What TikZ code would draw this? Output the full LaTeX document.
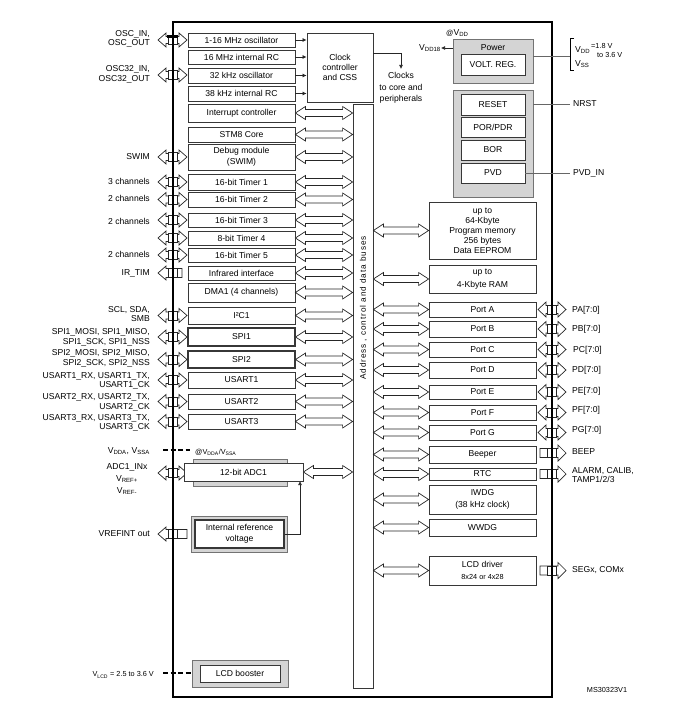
\documentclass[tikz,border=0pt]{standalone}
\usepackage{fontspec}
\setmainfont{Liberation Sans}
\newfontfamily\busfont[LetterSpace=11]{Liberation Sans}
\usetikzlibrary{arrows.meta,calc}
\definecolor{grpfill}{RGB}{212,212,212}
\definecolor{edgec}{RGB}{55,55,55}
\newcommand{\blkfs}{\fontsize{8.6}{10}\selectfont}
\newcommand{\lblfs}{\fontsize{8.6}{9.6}\selectfont}
\newcommand{\smfs}{\fontsize{7.3}{8.5}\selectfont}
\tikzset{
  blk/.style={draw=edgec, line width=0.8pt, fill=white, inner sep=0pt, align=center, font=\blkfs},
  grp/.style={draw=black!55, line width=0.8pt, fill=grpfill, inner sep=0pt},
  lbl/.style={inner sep=0pt, font=\lblfs, align=right},
  rlbl/.style={inner sep=0pt, font=\lblfs, align=left, anchor=west},
  hollow/.style={draw=black!85, fill=white, line width=0.7pt, line join=miter},
  pinsqr/.style={draw=black!85, fill=white, line width=0.7pt},
  clkarr/.style={draw=black!85, line width=0.7pt, -{Latex[length=4pt,width=4pt]}},
  gline/.style={draw=black!60, line width=0.8pt},
  dashthick/.style={draw=black, line width=1.8pt, dash pattern=on 5pt off 2.5pt},
}
\newcommand{\mkbox}[7]{\node[#1, minimum width={(#5-#3)*1pt}, minimum height={(#6-#4)*1pt}] (#2) at ({(#3+#5)/2},{(#4+#6)/2}) {#7};}
% both heads, #1 left point, #2 right point, #3 head length, #4 head half width, #5 shaft half width
\newcommand{\dblarr}[5]{\path[hollow] let \p1=(#1), \p2=(#2) in (\x1,\y1) -- ({\x1+#3},{\y1+#4}) -- ({\x1+#3},{\y1+#5}) -- ({\x2-#3},{\y1+#5}) -- ({\x2-#3},{\y1+#4}) -- (\x2,\y1) -- ({\x2-#3},{\y1-#4}) -- ({\x2-#3},{\y1-#5}) -- ({\x1+#3},{\y1-#5}) -- ({\x1+#3},{\y1-#4}) -- cycle;}
\newcommand{\sglR}[5]{\path[hollow] let \p1=(#1), \p2=(#2) in ({\x1},{\y1+#5}) -- ({\x2-#3},{\y1+#5}) -- ({\x2-#3},{\y1+#4}) -- (\x2,\y1) -- ({\x2-#3},{\y1-#4}) -- ({\x2-#3},{\y1-#5}) -- ({\x1},{\y1-#5}) -- cycle;}
\newcommand{\sglL}[5]{\path[hollow] let \p1=(#1), \p2=(#2) in (\x1,\y1) -- ({\x1+#3},{\y1+#4}) -- ({\x1+#3},{\y1+#5}) -- ({\x2},{\y1+#5}) -- ({\x2},{\y1-#5}) -- ({\x1+#3},{\y1-#5}) -- ({\x1+#3},{\y1-#4}) -- cycle;}
\newcommand{\pinsq}[2]{\draw[pinsqr] ({#1-4.5},{#2-4.5}) rectangle ({#1+4.5},{#2+4.5});}
\newcommand{\lpin}[1]{\dblarr{158,#1}{187,#1}{8pt}{7pt}{3.5pt}\pinsq{172.5}{#1}}
\newcommand{\lpinout}[2]{\sglL{158,#1}{#2,#1}{8pt}{7pt}{4.5pt}\pinsq{172.5}{#1}}
\newcommand{\rpin}[1]{\dblarr{538,#1}{566,#1}{8pt}{7.5pt}{4pt}\pinsq{552}{#1}}
\newcommand{\rpinout}[1]{\sglR{540,#1}{566,#1}{8pt}{8pt}{4.5pt}\pinsq{552}{#1}}
\begin{document}
\begin{tikzpicture}[x=1pt,y=-1pt]
\useasboundingbox (0,0) rectangle (681,706);

% ---- pins (drawn under the chip border)
\lpin{40}
\fill[black] (167,35) rectangle (178,38.5);
\lpin{75}
\lpin{157}
\lpin{182}
\lpin{199.5}
\lpin{220}
\lpin{238}
\lpin{255}
\lpinout{273}{182}
\lpin{315.5}
\lpin{337}
\lpin{359.5}
\lpin{380}
\lpin{401.5}
\lpin{421.5}
\lpin{473}
\lpinout{534}{187}
\foreach \yy in {309.5,329,349.5,370,392,412.5,432.5} {\rpin{\yy}}
\rpinout{453}
\rpinout{474}
\rpinout{570.5}

% ---- chip
\node[draw=black, line width=1.5pt, inner sep=0pt, minimum width=379pt, minimum height=675pt] (chip) at (362.5,359.5) {};

% ---- left blocks
\mkbox{blk}{osc1}{188}{33}{295}{47}{1-16 MHz oscillator}
\mkbox{blk}{rc16}{188}{50}{295}{64}{16 MHz internal RC}
\mkbox{blk}{osc32}{188}{68}{295}{83}{32 kHz oscillator}
\mkbox{blk}{rc38}{188}{86}{295}{101}{38 kHz internal RC}
\mkbox{blk}{irq}{188}{104}{295}{122}{Interrupt controller}
\mkbox{blk}{core}{188}{127}{295}{142}{STM8 Core}
\mkbox{blk}{dbg}{188}{144}{295}{170}{Debug module\\[1.5pt](SWIM)}
\mkbox{blk}{t1}{188}{174}{295}{190}{16-bit Timer 1}
\mkbox{blk}{t2}{188}{192}{295}{207}{16-bit Timer 2}
\mkbox{blk}{t3}{188}{213}{295}{227}{16-bit Timer 3}
\mkbox{blk}{t4}{188}{231}{295}{245}{8-bit Timer 4}
\mkbox{blk}{t5}{188}{248}{295}{262}{16-bit Timer 5}
\mkbox{blk}{ir}{188}{266}{295}{280}{Infrared interface}
\mkbox{blk}{dma}{188}{283}{295}{302}{DMA1 (4 channels)}
\mkbox{blk}{i2c}{188}{307}{295}{324}{I²C1}
\mkbox{blk, line width=1.1pt}{spi1}{188}{328}{295}{346}{SPI1}
\mkbox{blk, line width=1.1pt}{spi2}{188}{351}{295}{368}{SPI2}
\mkbox{blk}{u1}{188}{372}{295}{388}{USART1}
\mkbox{blk}{u2}{188}{394}{295}{409}{USART2}
\mkbox{blk}{u3}{188}{414}{295}{429}{USART3}

% clock controller and bus
\mkbox{blk}{clk}{307}{33}{373}{102}{Clock\\controller\\and CSS}
\mkbox{blk}{bus}{353}{104}{373}{688}{}
\node[rotate=90, inner sep=0pt, font=\busfont\fontsize{8.2}{9}\selectfont] (bustxt) at (363.5,308) {Address , control and data buses};

% ADC, reference, LCD booster
\mkbox{grp}{adcg}{193}{459}{287}{486}{}
\mkbox{blk}{adc}{184}{463}{303}{481}{12-bit ADC1}
\mkbox{grp}{irefg}{191}{516}{287}{552}{}
\mkbox{blk, line width=1.2pt}{iref}{195}{520}{284}{548}{Internal reference\\[1pt]voltage}
\mkbox{grp}{lcdbg}{192}{660}{288}{687}{}
\mkbox{blk}{lcdb}{200}{665}{280}{682}{LCD booster}

% ---- power / reset groups
\mkbox{grp}{pwr}{453}{39}{533}{83}{}
\node[inner sep=0pt, font=\blkfs] (pwrtxt) at (493,47.5) {Power};
\mkbox{blk}{vreg}{461}{54}{525}{75}{VOLT. REG.}
\mkbox{grp}{rstg}{453}{90}{533}{197}{}
\mkbox{blk}{rst}{461}{94}{525}{115}{RESET}
\mkbox{blk}{por}{461}{117}{525}{137}{POR/PDR}
\mkbox{blk}{bor}{461}{140}{525}{160}{BOR}
\mkbox{blk}{pvd}{461}{163}{525}{183}{PVD}

% ---- right blocks
\mkbox{blk}{pm}{429}{202}{536}{259}{\fontsize{8.6}{11.3}\selectfont up to\\64-Kbyte\\Program memory\\256 bytes\\Data EEPROM}
\mkbox{blk}{ram}{429}{265}{536}{293}{up to\\[3.5pt]4-Kbyte RAM}
\mkbox{blk}{pa}{429}{302}{536}{317}{Port A}
\mkbox{blk}{pb}{429}{321}{536}{337}{Port B}
\mkbox{blk}{pc}{429}{342}{536}{357}{Port C}
\mkbox{blk}{pd}{429}{362}{536}{378}{Port D}
\mkbox{blk}{pe}{429}{385}{536}{399}{Port E}
\mkbox{blk}{pf}{429}{405}{536}{420}{Port F}
\mkbox{blk}{pg}{429}{425}{536}{440}{Port G}
\mkbox{blk}{beep}{429}{446}{536}{463}{Beeper}
\mkbox{blk}{rtc}{429}{468}{536}{480}{RTC}
\mkbox{blk}{iwdg}{429}{485}{536}{514}{IWDG\\[1.5pt](38 kHz clock)}
\mkbox{blk}{wwdg}{429}{519}{536}{536}{WWDG}
\mkbox{blk}{lcd}{429}{556}{536}{585}{LCD driver\\[1.5pt]{\smfs 8x24 or 4x28}}

% ---- bus arrows
\foreach \bk in {irq,core,dbg,t1,t2,t3,t4,t5,ir,dma,i2c,spi1,spi2,u1,u2,u3,adc} {\dblarr{\bk.east}{bus.west |- \bk.east}{10pt}{6.5pt}{3.5pt}}
\foreach \bk in {pm,ram,pa,pb,pc,pd,pe,pf,pg,beep,rtc,iwdg,wwdg,lcd} {\dblarr{bus.east |- \bk.west}{\bk.west}{10pt}{6.5pt}{3.5pt}}

% ---- clock arrows
\foreach \bk in {osc1,rc16,osc32,rc38} {\draw[clkarr] (\bk.east) -- (clk.west |- \bk.east);}
\coordinate (clkturn) at (401,53);
\draw[clkarr] (clk.east |- clkturn) -- (clkturn) -- ++(0,16);
\node[inner sep=0pt, font=\fontsize{8.6}{11.5}\selectfont, align=center] (clktxt) at (401,88) {Clocks\\to core and\\peripherals};

% reference voltage to ADC
\coordinate (refup) at (300,481);
\draw[clkarr] (iref.east) -| (refup);

% ---- power labels
\node[inner sep=0pt, anchor=west, font=\lblfs] (atvdd) at (446,33) {{\smfs @}V\textsubscript{DD}};
\node[lbl, anchor=east] (vdd18) at (441,48) {V\textsubscript{DD18}};
\draw[clkarr] (pwr.west |- vdd18) -- (vdd18.east);
\coordinate (brk) at (570,56);
\draw[gline] (pwr.east |- brk) -- (brk);
\draw[draw=black, line width=0.8pt] (574,38) -- (570,38) -- (570,70) -- (574,70);
\node[rlbl] (vddr) at (575,50) {V\textsubscript{DD}};
\node[rlbl, font=\smfs] (vddv) at (591,46) {=1.8 V};
\node[rlbl, font=\smfs] (vddto) at (597,55) {to 3.6 V};
\node[rlbl] (vss) at (575,64) {V\textsubscript{SS}};
\node[rlbl] (nrst) at (573,104) {NRST};
\draw[gline] (rstg.east |- nrst) -- ([xshift=-3pt]nrst.west);
\node[rlbl] (pvdin) at (573,173) {PVD\_IN};
\draw[gline] (pvd.east) -- ([xshift=-3pt]pvdin.west);

% ---- left labels
\node[lbl, anchor=east] (losc) at (150,39) {OSC\_IN,\\OSC\_OUT};
\node[lbl, anchor=east] (losc32) at (150,74.5) {OSC32\_IN,\\OSC32\_OUT};
\node[lbl, anchor=east] (lswim) at (150,157) {SWIM};
\node[lbl, anchor=east] (lt1) at (150,181) {3 channels};
\node[lbl, anchor=east] (lt2) at (150,198) {2 channels};
\node[lbl, anchor=east] (lt3) at (150,221) {2 channels};
\node[lbl, anchor=east] (lt5) at (150,254) {2 channels};
\node[lbl, anchor=east] (lir) at (150,273) {IR\_TIM};
\node[lbl, anchor=east] (li2c) at (150,314) {SCL, SDA,\\[-1.5pt]SMB};
\node[lbl, anchor=east] (lspi1) at (150,337.5) {SPI1\_MOSI, SPI1\_MISO,\\SPI1\_SCK, SPI1\_NSS};
\node[lbl, anchor=east] (lspi2) at (150,358.5) {SPI2\_MOSI, SPI2\_MISO,\\SPI2\_SCK, SPI2\_NSS};
\node[lbl, anchor=east] (lu1) at (150,381) {USART1\_RX, USART1\_TX,\\USART1\_CK};
\node[lbl, anchor=east] (lu2) at (150,402.5) {USART2\_RX, USART2\_TX,\\USART2\_CK};
\node[lbl, anchor=east] (lu3) at (150,423) {USART3\_RX, USART3\_TX,\\USART3\_CK};
\node[lbl, anchor=east] (lvdda) at (150,451) {V\textsubscript{DDA}, V\textsubscript{SSA}};
\coordinate (vddaend) at (190,450);
\draw[dashthick] ([xshift=13pt]lvdda.east |- vddaend) -- (vddaend);
\node[inner sep=0pt, anchor=west, font=\smfs] (atvdda) at (195,452) {@V\textsubscript{DDA}/V\textsubscript{SSA}};
\node[inner sep=0pt, font=\fontsize{8.6}{12}\selectfont, align=center] (ladc) at (127,479) {ADC1\_INx\\V\textsubscript{REF+}\\V\textsubscript{REF-}};
\node[lbl, anchor=east] (lvref) at (150,534) {VREFINT out};
\node[lbl, anchor=east, font=\smfs] (lvlcd) at (154,675) {V\textsubscript{LCD} = 2.5 to 3.6 V};
\coordinate (lcdstart) at (163,673);
\draw[dashthick] (lcdstart) -- (lcdbg.west |- lcdstart);

% ---- right labels
\node[rlbl] (lpa) at (572,310) {PA[7:0]};
\node[rlbl] (lpb) at (572,329) {PB[7:0]};
\node[rlbl] (lpc) at (573,350) {PC[7:0]};
\node[rlbl] (lpd) at (572,370) {PD[7:0]};
\node[rlbl] (lpe) at (572,391) {PE[7:0]};
\node[rlbl] (lpf) at (572,410) {PF[7:0]};
\node[rlbl] (lpg) at (572,430) {PG[7:0]};
\node[rlbl] (lbeep) at (572,452) {BEEP};
\node[rlbl] (lalarm) at (572,475) {ALARM, CALIB,\\TAMP1/2/3};
\node[rlbl] (lseg) at (572,570) {SEGx, COMx};
\node[inner sep=0pt, font=\smfs] (msid) at (607,690) {MS30323V1};
\end{tikzpicture}
\end{document}
